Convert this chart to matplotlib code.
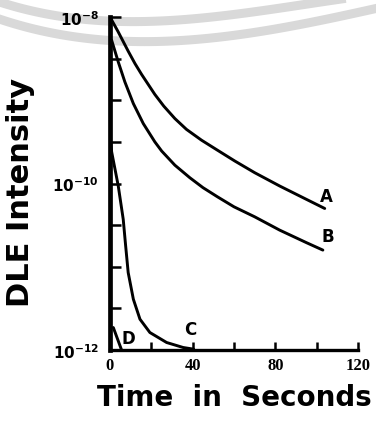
import numpy as np
import matplotlib.pyplot as plt
from matplotlib.lines import Line2D

# curves: time (s) and log10 of DLE intensity
t_a = [0, 4, 8.8, 12.1, 15.3, 21.7, 26, 31.4, 37, 44.3, 52, 60.4, 70, 82.1, 95, 103.9]
log_a = [-8.0, -8.18, -8.41, -8.56, -8.69, -8.93, -9.07, -9.22, -9.35, -9.48,
         -9.60, -9.73, -9.87, -10.03, -10.19, -10.30]

t_b = [0.8, 4, 7.2, 11.3, 16.1, 21.7, 25, 31.4, 38.6, 45, 52, 60, 70, 82.1, 95, 103]
log_b = [-8.28, -8.54, -8.78, -9.04, -9.28, -9.50, -9.61, -9.78, -9.93, -10.05,
         -10.16, -10.28, -10.40, -10.56, -10.71, -10.80]

t_c = [0, 0.8, 4.0, 6.4, 7.5, 8.8, 11.3, 14.5, 19.3, 27.4, 35.4, 40.5]
log_c = [-9.41, -9.62, -10.03, -10.43, -10.73, -11.07, -11.39, -11.63, -11.79, -11.91, -11.97, -11.99]

t_d = [1.6, 5.6]
log_d = [-11.73, -12.0]

curve_names = ['A', 'B', 'C', 'D']
label_t = [104.7, 105.5, 38.6, 8.9]
label_log = [-10.15, -10.63, -11.75, -11.85]

x_ticks = [0, 20, 40, 60, 80, 100, 120]
x_labels = ['0', '', '40', '', '80', '', '120']
y_ticks = [-12, -11.5, -11, -10.5, -10, -9.5, -9, -8.5, -8]
y_labels = {-12: '$\\mathbf{10^{-12}}$', -10: '$\\mathbf{10^{-10}}$', -8: '$\\mathbf{10^{-8}}$'}

fig = plt.figure(figsize=(3.76, 4.27), dpi=100)

# faint scan watermark bands across the top (pixel positions from top-left)
band_x = np.array([0, 113, 200, 300, 376])
band_upper = np.array([3, 23, 18, 7, -5])
band_lower = np.array([20, 43, 38, 27, 9])
xs = np.linspace(0, 376, 100)
for by in [band_upper, band_lower]:
    ys = np.polyval(np.polyfit(band_x, by, 3), xs)
    fig.add_artist(Line2D(xs / 376, 1 - ys / 427, color='#d9d9d9', lw=6.5, zorder=-1))

ax = fig.add_axes([110 / 376, 1 - 351 / 427, 248 / 376, 333 / 427])
ax.patch.set_visible(False)

for t, lg in [(t_a, log_a), (t_b, log_b), (t_c, log_c), (t_d, log_d)]:
    ax.plot(t, 10.0 ** np.array(lg), color='black', lw=2.1,
            solid_capstyle='round', solid_joinstyle='round')

for name, tx, ly in zip(curve_names, label_t, label_log):
    ax.text(tx, 10.0 ** ly, name, fontsize=12, fontweight='bold',
            family='DejaVu Sans', ha='center', va='center')

ax.set_yscale('log')
ax.set_xlim(0, 120)
ax.set_ylim(1e-12, 1e-8)

ax.set_xticks(x_ticks)
ax.set_xticklabels(x_labels, family='Liberation Serif', fontweight='bold', fontsize=12)
ax.set_yticks([10.0 ** v for v in y_ticks])
ax.set_yticklabels([y_labels.get(v, '') for v in y_ticks], fontsize=11)
ax.minorticks_off()
ax.tick_params(axis='y', direction='in', length=8, width=1.8, pad=8)
ax.tick_params(axis='x', direction='in', length=6, width=1.8, pad=5)

for s in ['top', 'right']:
    ax.spines[s].set_visible(False)
ax.spines['left'].set_linewidth(3.4)
ax.spines['bottom'].set_linewidth(2.4)

fig.text(21 / 376, 1 - 192 / 427, 'DLE Intensity', rotation=90, fontsize=22,
         fontweight='bold', family='DejaVu Sans', ha='center', va='center')
fig.text(234 / 376, 1 - 398 / 427, 'Time  in  Seconds', fontsize=20,
         fontweight='bold', family='DejaVu Sans', ha='center', va='center')

fig.savefig('out.png', dpi=100)
